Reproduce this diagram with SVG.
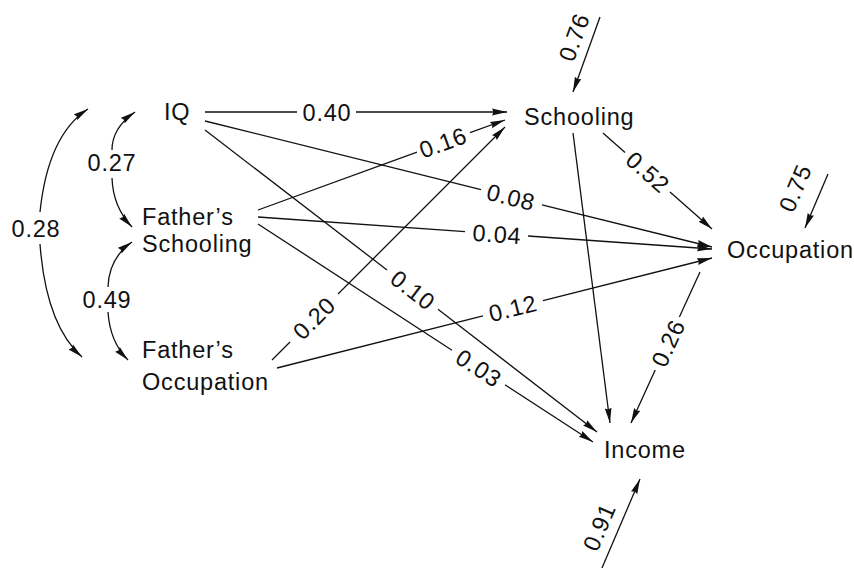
<svg xmlns="http://www.w3.org/2000/svg" width="854" height="570" viewBox="0 0 854 570">
<style>
text{font-family:"Liberation Sans",Arial,sans-serif;font-size:23.5px;letter-spacing:0.8px;fill:#111}
.lbl{text-anchor:middle}
.c path,.c line{stroke:#111;stroke-width:1.3;fill:none}
.a{marker-end:url(#ah)}
</style>
<defs>
<marker id="ah" markerUnits="userSpaceOnUse" markerWidth="16" markerHeight="8" refX="15" refY="4" orient="auto">
<path d="M0,0.6 L15,4 L0,7.4 L1.5,4 z" fill="#111"/>
</marker>
</defs>
<rect width="854" height="570" fill="#fff"/>
<g id="IQ"><text x="164" y="120">IQ</text></g>
<g id="Schooling"><text x="524" y="125">Schooling</text></g>
<g id="FathersSchooling"><text x="142" y="225">Father’s</text><text x="142" y="252">Schooling</text></g>
<g id="FathersOccupation"><text x="142" y="358">Father’s</text><text x="142" y="390">Occupation</text></g>
<g id="Occupation"><text x="727" y="258">Occupation</text></g>
<g id="Income"><text x="604" y="458">Income</text></g>
<g id="connectors" class="c">
<!-- IQ -> Schooling -->
<line x1="205" y1="112" x2="297" y2="112"/>
<line class="a" x1="356" y1="112" x2="507" y2="112"/>
<!-- IQ -> Occupation -->
<line x1="205" y1="121" x2="481" y2="189.6"/>
<line class="a" x1="542" y1="204.8" x2="712" y2="247"/>
<!-- IQ -> Income -->
<line x1="205" y1="130" x2="387" y2="270"/>
<line class="a" x1="438" y1="309.3" x2="597" y2="432"/>
<!-- FS -> Schooling -->
<line x1="258" y1="210" x2="417" y2="152.1"/>
<line class="a" x1="470" y1="132.7" x2="505" y2="120"/>
<!-- FS -> Occupation -->
<line x1="258" y1="217" x2="465" y2="231.6"/>
<line class="a" x1="528" y1="236" x2="712" y2="249"/>
<!-- FS -> Income -->
<line x1="258" y1="224" x2="452" y2="350.2"/>
<line class="a" x1="505" y1="384.7" x2="593" y2="442"/>
<!-- FO -> Schooling -->
<line x1="272" y1="360" x2="290" y2="342"/>
<line class="a" x1="338" y1="294" x2="505" y2="127"/>
<!-- FO -> Occupation -->
<line x1="277" y1="368" x2="483" y2="315.9"/>
<line class="a" x1="543" y1="300.7" x2="712" y2="258"/>
<!-- Schooling -> Income -->
<line class="a" x1="573" y1="133" x2="610" y2="423"/>
<!-- Schooling -> Occupation -->
<line x1="603" y1="133" x2="625" y2="152.4"/>
<line class="a" x1="670" y1="192" x2="712" y2="229"/>
<!-- Occupation -> Income -->
<line x1="700" y1="272" x2="679.4" y2="317"/>
<line class="a" x1="655.2" y1="370" x2="631" y2="423"/>
<!-- residuals -->
<line class="a" x1="600" y1="17" x2="573" y2="92"/>
<line class="a" x1="828" y1="174" x2="805" y2="228"/>
<line class="a" x1="602" y1="568" x2="640" y2="479"/>
<!-- correlations -->
<path class="a" d="M112,150 Q112,128 135,112"/>
<path class="a" d="M112,178 Q113,207 132,227"/>
<path class="a" d="M108,287 Q109,258 132,242"/>
<path class="a" d="M108,312 Q110,342 128,360"/>
<path class="a" d="M40,212 Q48,135 88,109"/>
<path class="a" d="M40,244 Q46,325 82,357"/>
</g>
<g id="labels">
<text class="lbl" x="327" y="120.5">0.40</text>
<text class="lbl" transform="translate(511,197) rotate(14)" x="0" y="8.5">0.08</text>
<text class="lbl" transform="translate(413,290) rotate(37.6)" x="0" y="8.5">0.10</text>
<text class="lbl" transform="translate(443,142.5) rotate(-20)" x="0" y="8.5">0.16</text>
<text class="lbl" transform="translate(497,234) rotate(4)" x="0" y="8.5">0.04</text>
<text class="lbl" transform="translate(479,368) rotate(33)" x="0" y="8.5">0.03</text>
<text class="lbl" transform="translate(314,318) rotate(-45)" x="0" y="8.5">0.20</text>
<text class="lbl" transform="translate(513,308) rotate(-14.2)" x="0" y="8.5">0.12</text>
<text class="lbl" transform="translate(648,172) rotate(41.4)" x="0" y="8.5">0.52</text>
<text class="lbl" transform="translate(668,343) rotate(-65.4)" x="0" y="8.5">0.26</text>
<text class="lbl" transform="translate(574,37) rotate(-70)" x="0" y="8.5">0.76</text>
<text class="lbl" transform="translate(795,188) rotate(-67)" x="0" y="8.5">0.75</text>
<text class="lbl" transform="translate(599,527) rotate(-67)" x="0" y="8.5">0.91</text>
<text class="lbl" x="112" y="170.5">0.27</text>
<text class="lbl" x="107" y="307.5">0.49</text>
<text class="lbl" x="36" y="236.5">0.28</text>
</g>
</svg>
